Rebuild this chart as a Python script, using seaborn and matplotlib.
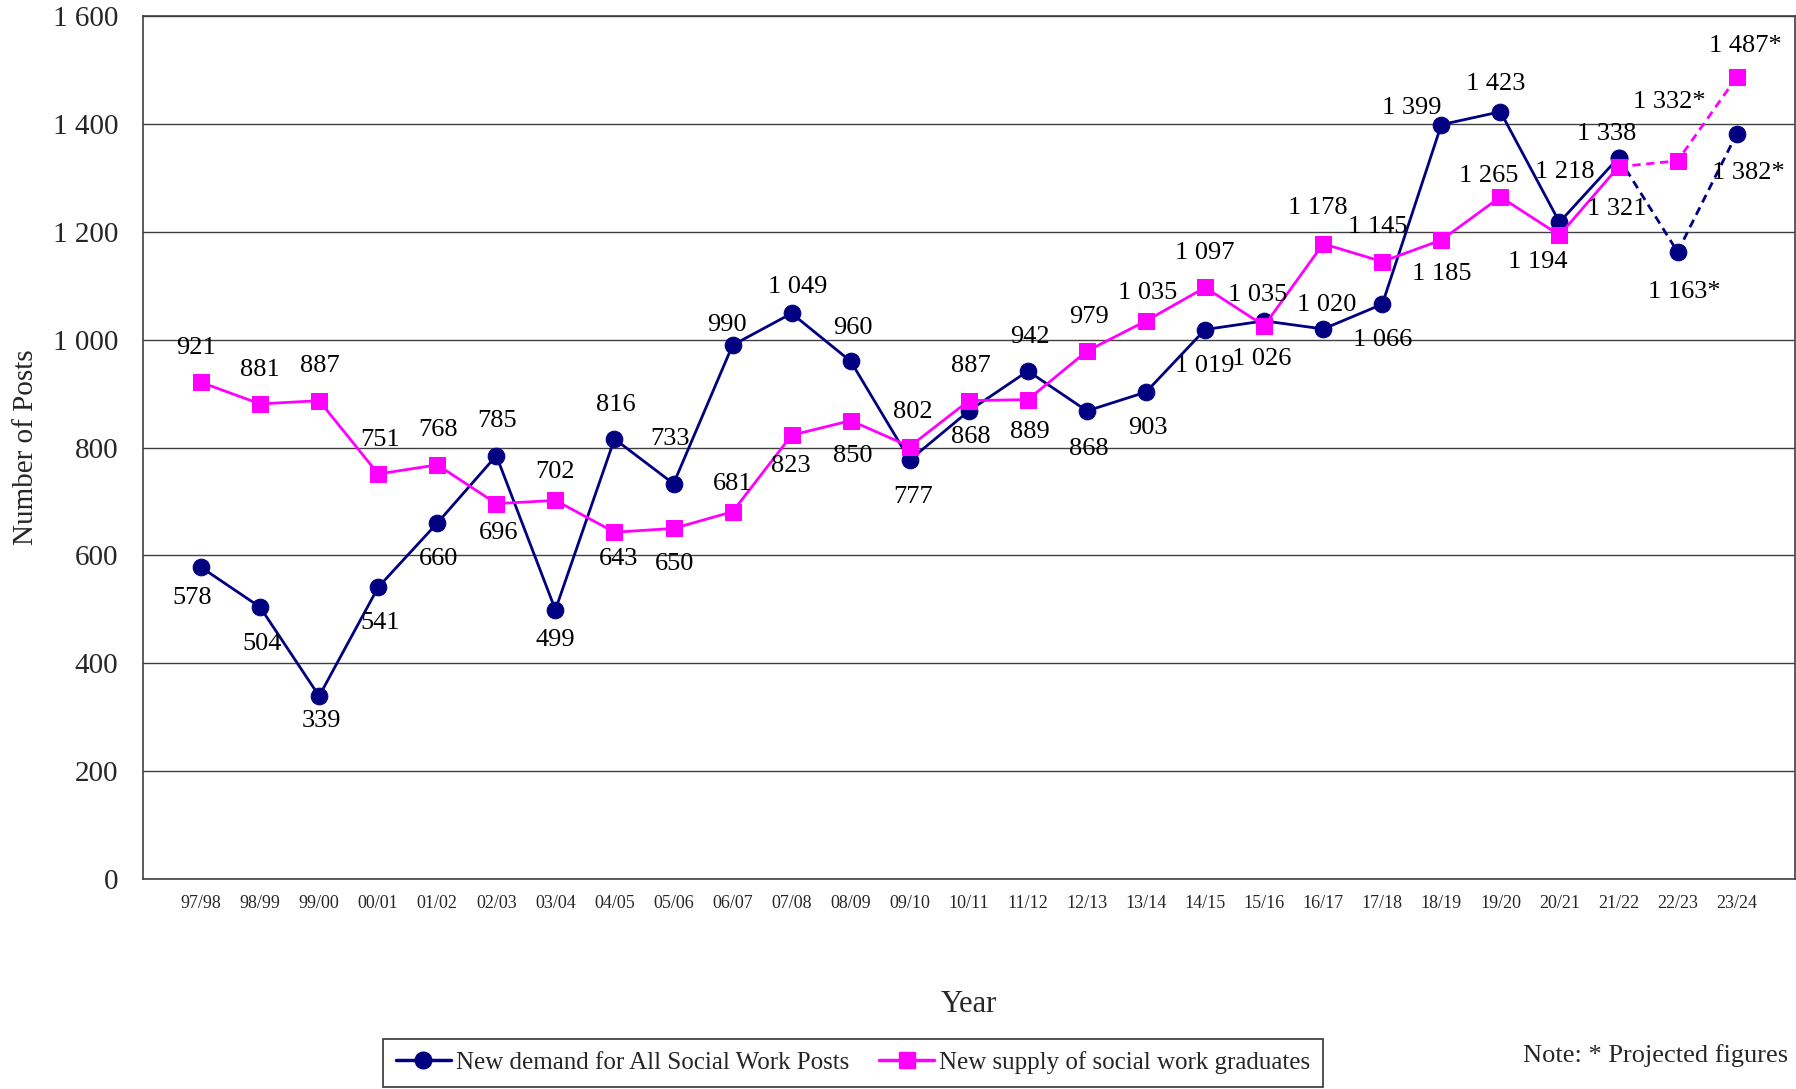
import matplotlib
matplotlib.use("Agg")
import matplotlib.pyplot as plt
from matplotlib.lines import Line2D
import seaborn as sns
import pandas as pd
import numpy as np

years = ["97/98", "98/99", "99/00", "00/01", "01/02", "02/03", "03/04", "04/05", "05/06",
         "06/07", "07/08", "08/09", "09/10", "10/11", "11/12", "12/13", "13/14", "14/15",
         "15/16", "16/17", "17/18", "18/19", "19/20", "20/21", "21/22", "22/23", "23/24"]
demand = [578, 504, 339, 541, 660, 785, 499, 816, 733, 990, 1049, 960, 777, 868, 942, 868,
          903, 1019, 1035, 1020, 1066, 1399, 1423, 1218, 1338, 1163, 1382]
supply = [921, 881, 887, 751, 768, 696, 702, 643, 650, 681, 823, 850, 802, 887, 889, 979,
          1035, 1097, 1026, 1178, 1145, 1185, 1265, 1194, 1321, 1332, 1487]
projected = [False] * 25 + [True, True]
yticks = [0, 200, 400, 600, 800, 1000, 1200, 1400, 1600]

demand_name = "New demand for All Social Work Posts"
supply_name = "New supply of social work graduates"
NAVY = "#000080"
MAG = "#FF00FF"

# label offsets (dx, dy) in reference-display pixels (positive dy = downwards)
dem_off = [(-8, 27), (2, 32), (2, 22), (2, 31), (1, 31), (1, -30), (0, 26), (1, -30), (-3, -39),
           (-5, -18), (5, -23), (2, -29), (3, 32), (2, 23), (2, -30), (2, 33), (2, 31), (0, 32),
           (-6, -23), (3, -21), (0, 31), (-26, -15), (-4, -24), (5, -44), (-10, -21), (6, 35), (10, 34)]
sup_off = [(-4, -30), (0, -30), (1, -30), (2, -30), (1, -30), (2, 26), (0, -25), (4, 23), (1, 31),
           (0, -24), (-1, 27), (2, 31), (3, -30), (2, -30), (2, 28), (2, -30), (1, -24), (0, -30),
           (-2, 29), (-5, -31), (-4, -30), (0, 30), (-10, -18), (-19, 23), (-2, 37), (-7, -51), (8, -27)]

def fmt(v):
    return f"{v:,}".replace(",", " ")

sns.set_theme(style="white")
plt.rcParams["font.family"] = ["Liberation Serif", "DejaVu Serif"]

fig = plt.figure(figsize=(17.96, 10.89), dpi=100)
ax = fig.add_axes([0.0797, 0.193, 0.9195, 0.792])

x = np.arange(len(years))
df = pd.DataFrame({"x": np.concatenate([x, x]),
                   "value": demand + supply,
                   "series": [demand_name] * len(x) + [supply_name] * len(x),
                   "proj": projected + projected})

for name, col, mk in [(demand_name, NAVY, "o"), (supply_name, MAG, "s")]:
    d = df[df.series == name]
    solid = d[~d.proj]
    dash = d[d.x >= 24]
    sns.lineplot(data=solid, x="x", y="value", ax=ax, color=col, marker=mk, markersize=12,
                 markeredgecolor=col, linewidth=2, legend=False)
    sns.lineplot(data=dash, x="x", y="value", ax=ax, color=col, marker=mk, markersize=12,
                 markeredgecolor=col, linewidth=2, linestyle=(0, (3, 2)), legend=False)

k = 1796 / 1568 * 0.72
for vals, offs in [(demand, dem_off), (supply, sup_off)]:
    for i, (v, (dx, dy)) in enumerate(zip(vals, offs)):
        txt = fmt(v) + ("*" if projected[i] else "")
        ax.annotate(txt, (x[i], v), xytext=(dx * k, -dy * k), textcoords="offset points",
                    ha="center", va="center", fontsize=19, color="black")

ax.set_xlim(-0.98, 26.98)
ax.set_ylim(0, 1600)
ax.set_yticks(yticks)
ax.set_yticklabels([fmt(t) for t in yticks], fontsize=21)
ax.set_xticks(x)
ax.set_xticklabels(years, fontsize=13)
ax.yaxis.grid(True, color="#404040", linewidth=1)
ax.set_axisbelow(True)
for s in ax.spines.values():
    s.set_color("#404040")
    s.set_linewidth(1.2)
ax.tick_params(axis="x", direction="in", length=6, color="#404040", pad=12)
ax.tick_params(axis="y", direction="in", length=0, pad=18)
ax.set_xlabel("Year", fontsize=22, labelpad=56)
ax.set_ylabel("Number of Posts", fontsize=21, labelpad=10)

handles = [Line2D([], [], color=NAVY, marker="o", markersize=12, linewidth=2.5),
           Line2D([], [], color=MAG, marker="s", markersize=12, linewidth=2.5)]
leg = fig.legend(handles, [demand_name, supply_name], loc="center",
                 bbox_to_anchor=(0.475, 0.0242), ncol=2, fontsize=18, frameon=True,
                 fancybox=False, edgecolor="black", handlelength=2.2, handletextpad=0.2,
                 columnspacing=1.2, borderpad=0.5)
leg.get_frame().set_linewidth(1.2)
fig.text(0.9216, 0.0305, "Note: * Projected figures", fontsize=19, ha="center", va="center")

fig.savefig("out.png", dpi=100)
